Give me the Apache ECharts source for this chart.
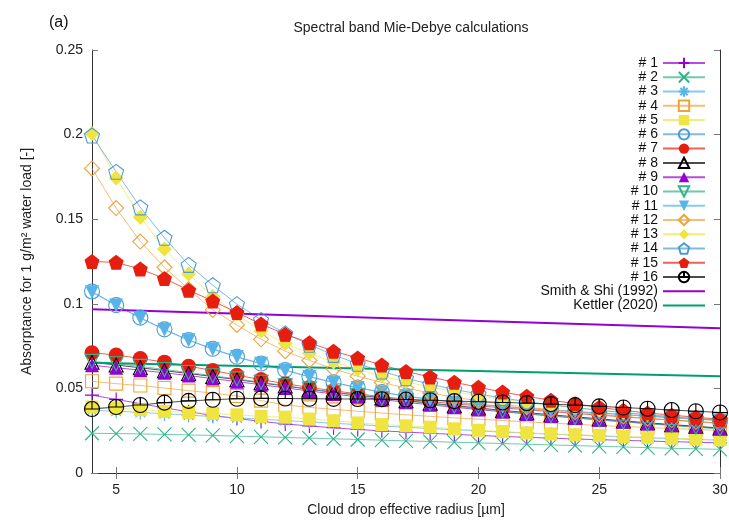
<!DOCTYPE html>
<html lang="en">
  <head>
    <meta charset="UTF-8" />
    <title>Spectral band Mie-Debye calculations</title>
    <script src="https://cdn.jsdelivr.net/npm/echarts@6.0.0/dist/echarts.min.js"></script>
  </head>
  <body style="margin: 0; background: #fff">
    <div id="chart" style="width: 729px; height: 520px"></div>
    <script>
      // effective radius (µm)
      const radius = [4, 5, 6, 7, 8, 9, 10, 11, 12, 13, 14, 15, 16, 17, 18, 19, 20, 21, 22, 23, 24, 25, 26, 27, 28, 29, 30]

      // absorptance of the 16 spectral bands
      const band1 = [0.046, 0.0435, 0.041, 0.0385, 0.0362, 0.034, 0.0322, 0.0305, 0.029, 0.0278, 0.0267, 0.0257, 0.0249, 0.0242, 0.0235, 0.0228, 0.0222, 0.0216, 0.0211, 0.0206, 0.0201, 0.0197, 0.0193, 0.0189, 0.0185, 0.0182, 0.0178]
      const band2 = [0.0235, 0.0233, 0.0231, 0.0228, 0.0225, 0.0222, 0.0218, 0.0214, 0.021, 0.0206, 0.0202, 0.0198, 0.0194, 0.019, 0.0186, 0.0182, 0.0178, 0.0174, 0.017, 0.0166, 0.0162, 0.0158, 0.0154, 0.015, 0.0146, 0.0143, 0.014]
      const band3 = [0.037, 0.0365, 0.0358, 0.035, 0.0342, 0.0334, 0.0326, 0.0318, 0.031, 0.0302, 0.0294, 0.0286, 0.0278, 0.027, 0.0263, 0.0256, 0.0249, 0.0242, 0.0236, 0.023, 0.0224, 0.0218, 0.0213, 0.0208, 0.0203, 0.0198, 0.0194]
      const band4 = [0.0542, 0.0528, 0.0517, 0.0502, 0.0487, 0.0472, 0.0455, 0.0428, 0.0402, 0.0388, 0.0376, 0.0365, 0.0354, 0.0344, 0.0335, 0.0326, 0.0318, 0.031, 0.0302, 0.0295, 0.0288, 0.0281, 0.0275, 0.0269, 0.0263, 0.0257, 0.0252]
      const band5 = [0.039, 0.0384, 0.0374, 0.0364, 0.0358, 0.0352, 0.0344, 0.0334, 0.033, 0.0319, 0.0309, 0.0296, 0.0286, 0.0279, 0.0271, 0.0261, 0.0252, 0.0245, 0.0237, 0.0231, 0.0226, 0.0222, 0.0216, 0.0211, 0.0206, 0.0201, 0.0196]
      const band6 = [0.1073, 0.0992, 0.0918, 0.0849, 0.0786, 0.0734, 0.0687, 0.0647, 0.0608, 0.057, 0.0536, 0.0505, 0.0478, 0.0455, 0.0436, 0.042, 0.0406, 0.0394, 0.0383, 0.0373, 0.0364, 0.0355, 0.0346, 0.0337, 0.0328, 0.032, 0.0312]
      const band7 = [0.0711, 0.0697, 0.0677, 0.0655, 0.0631, 0.0606, 0.0578, 0.0552, 0.0528, 0.0506, 0.0486, 0.0468, 0.0451, 0.0436, 0.0422, 0.0409, 0.0397, 0.0385, 0.0374, 0.0363, 0.0352, 0.0342, 0.0332, 0.0322, 0.0313, 0.0304, 0.0295]
      const band8 = [0.0655, 0.0638, 0.0622, 0.0605, 0.0588, 0.057, 0.0552, 0.0533, 0.0514, 0.0495, 0.0477, 0.046, 0.0444, 0.0428, 0.0413, 0.0398, 0.0384, 0.037, 0.0357, 0.0344, 0.0332, 0.032, 0.0308, 0.0297, 0.0286, 0.0276, 0.0266]
      const band9 = [0.0637, 0.0622, 0.0608, 0.0592, 0.0576, 0.0558, 0.054, 0.0522, 0.0503, 0.0485, 0.0467, 0.045, 0.0434, 0.0418, 0.0403, 0.0389, 0.0375, 0.0362, 0.0349, 0.0337, 0.0325, 0.0314, 0.0303, 0.0293, 0.0283, 0.0273, 0.0264]
      const band10 = [0.066, 0.0646, 0.063, 0.0612, 0.0594, 0.0575, 0.0556, 0.0536, 0.0516, 0.0496, 0.0477, 0.0459, 0.0442, 0.0426, 0.041, 0.0395, 0.038, 0.0366, 0.0352, 0.0339, 0.0326, 0.0314, 0.0302, 0.0291, 0.028, 0.027, 0.026]
      const band11 = [0.1068, 0.099, 0.0915, 0.0846, 0.0784, 0.0731, 0.0685, 0.0645, 0.0606, 0.0568, 0.0534, 0.0503, 0.0476, 0.0453, 0.0434, 0.0418, 0.0404, 0.0392, 0.0381, 0.0371, 0.0362, 0.0353, 0.0344, 0.0335, 0.0326, 0.0318, 0.031]
      const band12 = [0.18, 0.1566, 0.1368, 0.1216, 0.1087, 0.0964, 0.0875, 0.079, 0.072, 0.0665, 0.0615, 0.0572, 0.0535, 0.0502, 0.0473, 0.0448, 0.0426, 0.0406, 0.0389, 0.0373, 0.0359, 0.0346, 0.0334, 0.0323, 0.0313, 0.0303, 0.0294]
      const band13 = [0.2007, 0.1744, 0.1512, 0.1324, 0.1176, 0.1043, 0.0938, 0.0839, 0.0766, 0.0708, 0.0656, 0.0612, 0.0573, 0.0539, 0.0508, 0.0481, 0.0457, 0.0436, 0.0417, 0.04, 0.0385, 0.0371, 0.0358, 0.0346, 0.0335, 0.0325, 0.0315]
      const band14 = [0.1995, 0.178, 0.157, 0.139, 0.123, 0.111, 0.0998, 0.0905, 0.0825, 0.0758, 0.0698, 0.0646, 0.06, 0.056, 0.0525, 0.0494, 0.0467, 0.0443, 0.0422, 0.0403, 0.0386, 0.0371, 0.0357, 0.0344, 0.0332, 0.0321, 0.0311]
      const band15 = [0.125, 0.1245, 0.1205, 0.115, 0.108, 0.1017, 0.0948, 0.088, 0.082, 0.077, 0.072, 0.068, 0.0638, 0.06, 0.0568, 0.0536, 0.0507, 0.0478, 0.0453, 0.043, 0.041, 0.0388, 0.037, 0.0355, 0.0342, 0.033, 0.0318]
      const band16 = [0.0378, 0.039, 0.0402, 0.0416, 0.0426, 0.0433, 0.0439, 0.0441, 0.044, 0.0439, 0.0438, 0.0437, 0.0436, 0.0434, 0.043, 0.0425, 0.0421, 0.0417, 0.0413, 0.0407, 0.0401, 0.0394, 0.0387, 0.038, 0.0372, 0.0365, 0.0358]

      // parameterisations, drawn as straight lines between the end points
      const smithShi = [[4, 0.0968], [30, 0.0855]]
      const kettler = [[4, 0.0651], [30, 0.0572]]

      const bands = [band1, band2, band3, band4, band5, band6, band7, band8, band9, band10, band11, band12, band13, band14, band15, band16]
      const xTicks = [5, 10, 15, 20, 25, 30]

      // gnuplot-like colours and point types
      const purple = '#9400d3', green = '#2fb48a', lblue = '#56b4e9', orange = '#eea33a'
      const yellow = '#f0e442', blue = '#4b9cd6', red = '#e51e10', black = '#000000'
      const colors = [purple, green, lblue, orange, yellow, blue, red, black, purple, green, lblue, orange, yellow, blue, red, black]
      const symbols = [
        ['path://M0,-10L0,10M-10,0L10,0', false],
        ['path://M-10,-10L10,10M-10,10L10,-10', false],
        ['path://M0,-10L0,10M-10,0L10,0M-7,-7L7,7M-7,7L7,-7', false],
        ['rect', false],
        ['rect', true],
        ['circle', false],
        ['circle', true],
        ['triangle', false],
        ['triangle', true],
        ['path://M-10,-8L10,-8L0,9Z', false],
        ['path://M-10,-8L10,-8L0,9Z', true],
        ['diamond', false],
        ['diamond', true],
        ['path://M0,-10L9.5,-3.1L5.9,8.1L-5.9,8.1L-9.5,-3.1Z', false],
        ['path://M0,-10L9.5,-3.1L5.9,8.1L-5.9,8.1L-9.5,-3.1Z', true],
        ['path://M10,0A10,10 0 1,1 -10,0A10,10 0 1,1 10,0Z M-10,0L10,0 M0,-10L0,0', false],
      ]
      const sizes = [14, 14, 14, 13, 13, 15, 15, 14, 14, 14, 14, 15, 15, 15, 15, 15]

      const font = 'Liberation Sans'
      const clear = 'rgba(0,0,0,0)'

      const series = bands.map((vals, i) => ({
        name: '# ' + (i + 1),
        type: 'line',
        data: radius.map((r, k) => [r, vals[k]]),
        symbol: symbols[i][0],
        symbolSize: sizes[i],
        showAllSymbol: true,
        lineStyle: { color: colors[i], width: 1, opacity: 0.7 },
        itemStyle: {
          color: symbols[i][1] ? colors[i] : clear,
          borderColor: colors[i],
          borderWidth: symbols[i][1] ? 0 : 1.1,
        },
        emphasis: { disabled: true },
      }))
      // plain lines: invisible symbol so the legend shows only the line
      const plainLine = (name, data, color) => ({
        name: name,
        type: 'line',
        data: data,
        symbol: 'circle',
        showSymbol: false,
        lineStyle: { color: color, width: 2 },
        itemStyle: { color: clear, borderColor: clear, borderWidth: 0 },
        emphasis: { disabled: true },
      })
      series.push(plainLine('Smith & Shi (1992)', smithShi, purple))
      series.push(plainLine('Kettler (2020)', kettler, '#009e73'))

      const frame = { show: true, lineStyle: { color: '#333', width: 1 } }
      const tick = { show: true, inside: true, length: 6, lineStyle: { color: '#777' } }

      const chart = echarts.init(document.getElementById('chart'))
      chart.setOption({
        animation: false,
        title: [
          {
            text: 'Spectral band Mie-Debye calculations',
            left: 406,
            top: 16,
            textAlign: 'center',
            textStyle: { fontFamily: font, fontSize: 14, fontWeight: 'normal', color: '#222' },
          },
          {
            text: '(a)',
            left: 44,
            top: 10,
            textStyle: { fontFamily: font, fontSize: 16, fontWeight: 'normal', color: '#111' },
          },
        ],
        legend: {
          orient: 'vertical',
          right: 18,
          top: 51,
          align: 'right',
          itemWidth: 42,
          itemHeight: 13,
          itemGap: 0.27,
          textStyle: { fontFamily: font, fontSize: 14, color: '#111' },
          data: series.map(s => s.name),
        },
        grid: { left: 92, right: 9, top: 50, bottom: 47, outerBoundsMode: 'none' },
        xAxis: [
          {
            type: 'value',
            min: 4,
            max: 30,
            name: 'Cloud drop effective radius [µm]',
            nameLocation: 'middle',
            nameGap: 30,
            nameTextStyle: { fontFamily: font, fontSize: 14, color: '#222' },
            axisLine: frame,
            axisTick: Object.assign({ customValues: xTicks }, tick),
            axisLabel: { customValues: xTicks, fontFamily: font, fontSize: 14, color: '#222', margin: 10 },
            splitLine: { show: false },
          },
          {
            type: 'value',
            position: 'top',
            min: 4,
            max: 30,
            axisLine: frame,
            axisTick: Object.assign({ customValues: xTicks }, tick),
            axisLabel: { show: false },
            splitLine: { show: false },
          },
        ],
        yAxis: [
          {
            type: 'value',
            min: 0,
            max: 0.25,
            interval: 0.05,
            name: 'Absorptance for 1 g/m² water load [-]',
            nameLocation: 'middle',
            nameGap: 58,
            nameTextStyle: { fontFamily: font, fontSize: 14, color: '#222' },
            axisLine: frame,
            axisTick: tick,
            axisLabel: {
              fontFamily: font,
              fontSize: 14,
              color: '#222',
              margin: 9,
              formatter: v => String(+v.toFixed(2)),
            },
            splitLine: { show: false },
          },
          {
            type: 'value',
            position: 'right',
            min: 0,
            max: 0.25,
            interval: 0.05,
            axisLine: frame,
            axisTick: tick,
            axisLabel: { show: false },
            splitLine: { show: false },
          },
        ],
        series: series,
      })
    </script>
  </body>
</html>
